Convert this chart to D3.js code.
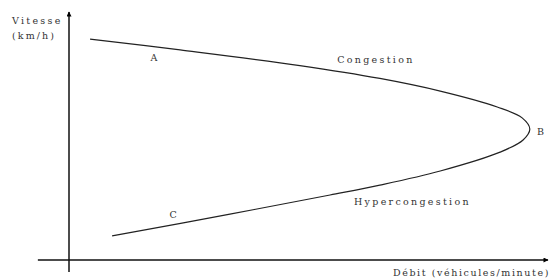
<!DOCTYPE html>
<html>
<head>
<meta charset="utf-8">
<script src="https://cdn.jsdelivr.net/npm/d3@7"></script>
<style>
  body { margin: 0; background: #fff; }
</style>
</head>
<body>
<div id="chart"></div>
<script>
// Speed-flow curve (arbitrary units 0-100)
var debit   = [4.4, 23.2, 48.2, 64.9, 77.5, 89.4, 94.6, 96.2, 94.8, 90.0, 77.5, 64.9, 54.5, 33.6, 9.0];
var vitesse = [89.1, 84.7, 78.4, 73.2, 68.1, 61.7, 57.3, 52.8, 48.4, 43.5, 35.9, 30.2, 26.2, 18.5, 9.7];

// point labels
var pointNames = ["A", "B", "C"];
var pointX = [17, 97.7, 21];
var pointY = [80.2, 50.4, 17];

// regime labels
var regimeNames = ["Congestion", "Hypercongestion"];
var regimeX = [56, 59.5];
var regimeY = [79.5, 22];

var serif = "'DejaVu Serif', 'Liberation Serif', serif";

var svgWidth = 557;
var svgHeight = 280;

var svg = d3.select("#chart")
  .append("svg")
  .attr("width", svgWidth)
  .attr("height", svgHeight);

// origin of the axes sits at (69, 260)
var xScale = d3.scaleLinear().domain([0, 100]).range([69, 548]);
var yScale = d3.scaleLinear().domain([0, 100]).range([260, 12]);

// arrowhead
svg.append("defs").append("marker")
  .attr("id", "arrow")
  .attr("viewBox", "0 0 10 10")
  .attr("refX", 9)
  .attr("refY", 5)
  .attr("markerWidth", 6)
  .attr("markerHeight", 5)
  .attr("markerUnits", "userSpaceOnUse")
  .attr("orient", "auto")
  .append("path")
  .attr("d", "M0,0 L10,5 L0,10 Z")
  .attr("fill", "#000");

// x axis
svg.append("line")
  .attr("x1", xScale(-6.5)).attr("y1", yScale(0))
  .attr("x2", xScale(100)).attr("y2", yScale(0))
  .attr("stroke", "#111")
  .attr("stroke-width", 1.3)
  .attr("marker-end", "url(#arrow)");

// y axis
svg.append("line")
  .attr("x1", xScale(0)).attr("y1", yScale(-4.8))
  .attr("x2", xScale(0)).attr("y2", yScale(100))
  .attr("stroke", "#111")
  .attr("stroke-width", 1.5)
  .attr("marker-end", "url(#arrow)");

// curve
var pts = debit.map(function (d, i) { return [d, vitesse[i]]; });
var line = d3.line()
  .x(function (d) { return xScale(d[0]); })
  .y(function (d) { return yScale(d[1]); })
  .curve(d3.curveCatmullRom.alpha(0.5));

svg.append("path")
  .datum(pts)
  .attr("d", line)
  .attr("fill", "none")
  .attr("stroke", "#222")
  .attr("stroke-width", 1.2);

// text helper
function label(x, y, txt, anchor, spacing) {
  return svg.append("text")
    .attr("x", x).attr("y", y)
    .attr("text-anchor", anchor)
    .attr("font-family", serif)
    .attr("font-size", 9.5)
    .attr("fill", "#333")
    .attr("letter-spacing", spacing)
    .text(txt);
}

label(12, 24, "Vitesse", "start", 2.3);
label(12, 39, "(km/h)", "start", 2.1);
label(550, 276, "Débit (véhicules/minute)", "end", 1.6);

// point labels
pointNames.forEach(function (d, i) {
  label(xScale(pointX[i]), yScale(pointY[i]), d, "start", 0);
});

// regime labels
regimeNames.forEach(function (d, i) {
  label(xScale(regimeX[i]), yScale(regimeY[i]), d, "start", 2.3);
});
</script>
</body>
</html>
